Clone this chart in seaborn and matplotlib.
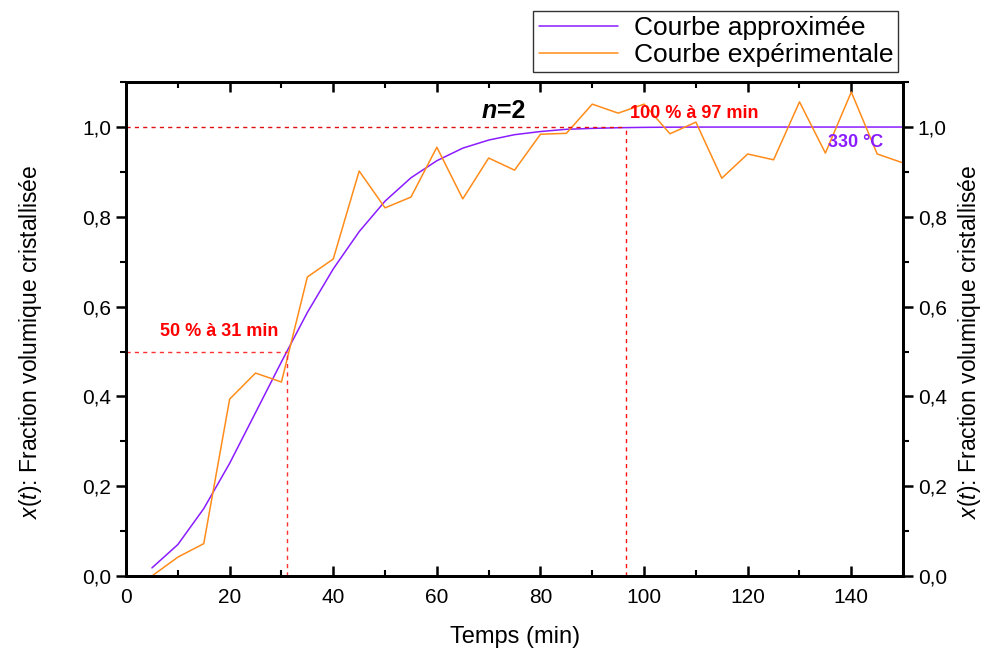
import pandas as pd
import seaborn as sns
import matplotlib.pyplot as plt
from matplotlib.ticker import MultipleLocator, FuncFormatter

# données
temps = list(range(5, 155, 5))
x_approx = [0.018, 0.070, 0.150, 0.251, 0.364, 0.477, 0.587, 0.684, 0.767, 0.835,
            0.887, 0.925, 0.953, 0.971, 0.983, 0.990, 0.995, 0.997, 0.9985, 0.9993,
            0.9997, 0.9999, 1.0, 1.0, 1.0, 1.0, 1.0, 1.0, 1.0, 1.0]
x_exp = [0.0, 0.042, 0.072, 0.394, 0.452, 0.432, 0.666, 0.706, 0.902, 0.820,
         0.844, 0.955, 0.840, 0.931, 0.904, 0.984, 0.986, 1.051, 1.031, 1.051,
         0.985, 1.011, 0.886, 0.940, 0.927, 1.056, 0.942, 1.078, 0.940, 0.920]
t_50, t_100 = 31, 96.5

sns.set_theme(style="ticks")
plt.rcParams['font.family'] = ['Liberation Sans', 'DejaVu Sans']
plt.rcParams['mathtext.fontset'] = 'custom'
plt.rcParams['mathtext.rm'] = 'Liberation Sans'
plt.rcParams['mathtext.it'] = 'Liberation Sans:italic'
for k in ['text.color', 'axes.labelcolor', 'xtick.color', 'ytick.color',
          'xtick.labelcolor', 'ytick.labelcolor']:
    plt.rcParams[k] = 'black'

df = pd.DataFrame({"t": temps, "approx": x_approx, "exp": x_exp})

fig = plt.figure(figsize=(9.87, 6.52), dpi=100)
ax = fig.add_axes([0.1277, 0.1166, 0.7873, 0.7574])

sns.lineplot(data=df, x="t", y="approx", ax=ax, color="#8a1cff", lw=1.1,
             label="Courbe approximée")
sns.lineplot(data=df, x="t", y="exp", ax=ax, color="#ff8c1a", lw=1.1,
             label="Courbe expérimentale")

# lignes de repère
tirets = (0, (3, 3))
ax.plot([0, t_50], [0.5, 0.5], ls=tirets, color="#ff3030", lw=1)
ax.plot([t_50, t_50], [0, 0.5], ls=tirets, color="#ff3030", lw=1)
ax.plot([0, t_100], [1.0, 1.0], ls=tirets, color="#e01010", lw=1)
ax.plot([t_100, t_100], [0, 1.0], ls=tirets, color="#ff1010", lw=1)

ax.text(6.5, 0.535, "50 % à 31 min", color="red", fontsize=13, fontweight="bold")
ax.text(97.3, 1.02, "100 % à 97 min", color="red", fontsize=13, fontweight="bold")
ax.text(135.5, 0.955, "330 °C", color="#8a1cff", fontsize=13, fontweight="bold")
ax.text(68.6, 1.02, "n", fontsize=18, fontweight="bold", fontstyle="italic")
ax.text(71.6, 1.02, "=2", fontsize=18, fontweight="bold")

ax.set_xlim(0, 150)
ax.set_ylim(0, 1.1)
ax.xaxis.set_major_locator(MultipleLocator(20))
ax.xaxis.set_minor_locator(MultipleLocator(10))
ax.yaxis.set_major_locator(MultipleLocator(0.2))
ax.yaxis.set_minor_locator(MultipleLocator(0.1))
virgule = FuncFormatter(lambda v, p: f"{v:.1f}".replace(".", ","))
ax.yaxis.set_major_formatter(virgule)

ylab = r"$x(t)$: Fraction volumique cristallisée"
ax.set_xlabel("Temps (min)", fontsize=17, labelpad=13)
ax.set_ylabel("")
fig.text(0.031, 0.476, ylab, rotation=90, fontsize=16.5, ha="center", va="center")
fig.text(0.982, 0.476, ylab, rotation=90, fontsize=16.5, ha="center", va="center")

ax.tick_params(axis="both", which="major", labelsize=15, width=1.8, length=7,
               direction="out")
ax.tick_params(axis="both", which="minor", width=1.5, length=4, direction="out")
ax.tick_params(axis="x", which="major", pad=9)
ax.tick_params(axis="x", top=True, which="both", direction="in")
for s in ax.spines.values():
    s.set_linewidth(2)
    s.set_color("black")
    s.set_visible(True)

ax2 = ax.twinx()
ax2.set_ylim(ax.get_ylim())
ax2.yaxis.set_major_locator(MultipleLocator(0.2))
ax2.yaxis.set_minor_locator(MultipleLocator(0.1))
ax2.yaxis.set_major_formatter(virgule)
ax2.tick_params(which="major", labelsize=15, width=1.8, length=7, direction="out")
ax2.tick_params(which="minor", width=1.5, length=4, direction="out")
for s in ax2.spines.values():
    s.set_linewidth(2)
    s.set_color("black")

leg = ax.legend(loc="lower right", bbox_to_anchor=(0.994, 1.02), fontsize=19,
                frameon=True, fancybox=False, edgecolor="black",
                handlelength=3.0, handletextpad=0.6, borderpad=0.2,
                labelspacing=0.1, borderaxespad=0)
leg.get_frame().set_linewidth(1)

fig.savefig("out.png", dpi=100)
